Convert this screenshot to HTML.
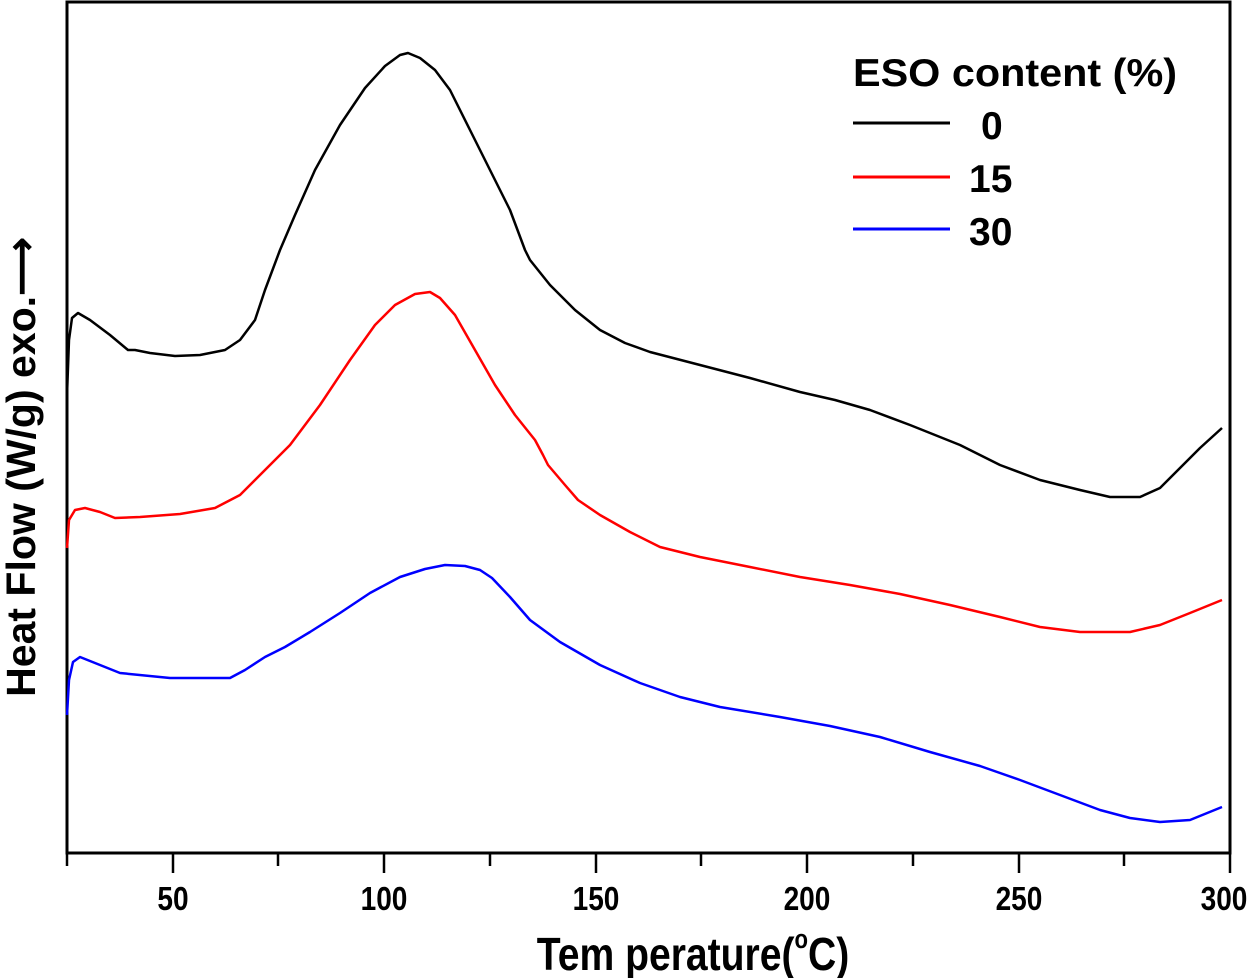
<!DOCTYPE html>
<html><head><meta charset="utf-8"><style>
html,body{margin:0;padding:0;background:#fff;}
svg{display:block;font-family:"Liberation Sans",Arial,sans-serif;font-weight:bold;}
</style></head><body>
<svg width="1260" height="978" viewBox="0 0 1260 978" xmlns="http://www.w3.org/2000/svg">
<rect x="67" y="2" width="1163" height="851" fill="none" stroke="#000" stroke-width="3"/>
<g stroke="#000" stroke-width="2.5">
<line x1="67" y1="853" x2="67" y2="866"/>
<line x1="173" y1="853" x2="173" y2="873"/>
<line x1="278" y1="853" x2="278" y2="866"/>
<line x1="384" y1="853" x2="384" y2="873"/>
<line x1="490" y1="853" x2="490" y2="866"/>
<line x1="596" y1="853" x2="596" y2="873"/>
<line x1="701" y1="853" x2="701" y2="866"/>
<line x1="807" y1="853" x2="807" y2="873"/>
<line x1="913" y1="853" x2="913" y2="866"/>
<line x1="1019" y1="853" x2="1019" y2="873"/>
<line x1="1124" y1="853" x2="1124" y2="866"/>
<line x1="1230" y1="853" x2="1230" y2="873"/>
</g>
<g font-size="33" text-anchor="middle" transform="scale(0.85,1)">
<text x="203.5" y="910">50</text>
<text x="451.8" y="910">100</text>
<text x="701.2" y="910">150</text>
<text x="949.4" y="910">200</text>
<text x="1198.8" y="910">250</text>
<text x="1440" y="910">300</text>
</g>
<text x="0" y="970" font-size="46" text-anchor="middle" transform="translate(693,0) scale(0.85,1)">Tem perature(<tspan font-size="26" dy="-22">o</tspan><tspan dy="22">C)</tspan></text>
<text font-size="41" text-anchor="middle" transform="translate(35,467) rotate(-90)">Heat Flow (W/g) exo.⟶</text>
<g fill="none" stroke-width="2.5" stroke-linejoin="round">
<polyline stroke="#000" points="67,395 69,340 72,318 78,313 90,320 110,335 128,350 135,350 150,353 175,356 200,355 225,350 240,340 255,320 265,290 280,250 295,215 315,170 340,125 365,88 385,66 400,55 408,53 420,58 435,70 450,90 470,130 490,170 510,210 525,250 530,260 550,285 575,310 600,330 625,343 650,352 700,365 750,378 800,392 835,400 870,410 910,425 960,445 1000,465 1040,480 1080,490 1110,497 1140,497 1160,488 1180,468 1200,448 1222,428"/>
<polyline stroke="#f00" points="67,548 69,520 75,510 85,508 100,512 115,518 140,517 180,514 215,508 240,495 260,475 290,445 320,405 350,360 375,325 395,305 415,294 430,292 440,298 455,315 475,350 495,385 515,415 535,440 543,455 548,465 565,485 578,500 600,515 630,532 660,547 700,557 750,567 800,577 850,585 900,594 950,605 1000,617 1040,627 1080,632 1130,632 1160,625 1190,613 1222,600"/>
<polyline stroke="#00f" points="67,715 69,680 73,662 80,657 95,663 120,673 170,678 230,678 245,670 265,657 285,647 310,632 340,613 370,593 400,577 425,569 445,565 465,566 480,570 492,578 510,597 530,620 560,642 600,665 640,683 680,697 720,707 780,717 830,726 880,737 930,752 980,766 1020,780 1060,795 1100,810 1130,818 1160,822 1190,820 1222,807"/>
</g>
<text x="853" y="86" font-size="39" textLength="324" lengthAdjust="spacingAndGlyphs">ESO content (%)</text>
<line x1="853" y1="123" x2="950" y2="123" stroke="#000" stroke-width="3"/>
<line x1="853" y1="177" x2="950" y2="177" stroke="#f00" stroke-width="3"/>
<line x1="853" y1="229" x2="950" y2="229" stroke="#00f" stroke-width="3"/>
<text x="981" y="139" font-size="39">0</text>
<text x="969" y="192" font-size="39">15</text>
<text x="969" y="245" font-size="39">30</text>
</svg>
</body></html>
